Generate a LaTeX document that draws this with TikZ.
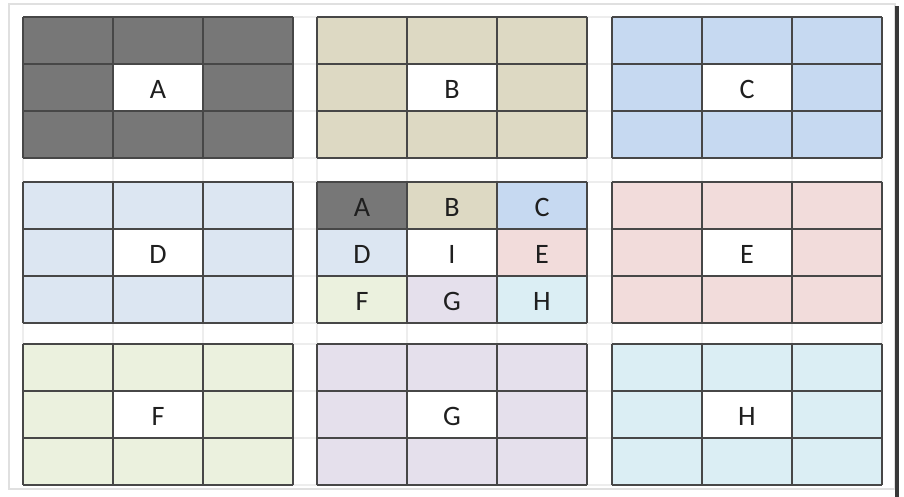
\documentclass[tikz,border=0pt]{standalone}
\usepackage{fontspec}
\setmainfont{Carlito}
\usepackage{tikz}
\usepackage{xcolor}

\definecolor{cellA}{HTML}{777777}
\definecolor{cellB}{HTML}{DDD9C3}
\definecolor{cellC}{HTML}{C6D9F1}
\definecolor{cellD}{HTML}{DCE6F2}
\definecolor{cellE}{HTML}{F2DCDB}
\definecolor{cellF}{HTML}{EBF1DE}
\definecolor{cellG}{HTML}{E5E0EC}
\definecolor{cellH}{HTML}{DBEEF4}

\tikzset{
  gridline/.style={draw=black!72, line width=0.8pt},
  faintline/.style={draw=black!7, line width=0.6pt},
  letter/.style={font=\fontsize{16}{19}\selectfont, text=black!88, inner sep=0pt}
}

\begin{document}
\begin{tikzpicture}[x=0.02cm,y=-0.02cm]
\useasboundingbox (0,0) rectangle (904,497);
\fill[white] (0,0) rectangle (904,497);
\draw[draw=black!12, line width=0.6pt] (9,4) rectangle (895,489);
\draw[draw=black!78, line width=2.4pt] (897,6) -- (897,497);

				\foreach \gx in {23,113,203,293,317,407,497,587,612,702,792,882}
				\draw[faintline] (\gx,17) -- (\gx,485);
				\foreach \gy in {17,64,111,158,182,229,276,323,344,391,438,485}
				\draw[faintline] (23,\gy) -- (882,\gy);

				\foreach \bx/\by/\fillc/\lab in 
{23/17/cellA/A, 317/17/cellB/B, 612/17/cellC/C, 23/182/cellD/D, 612/182/cellE/E, 23/344/cellF/F, 317/344/cellG/G, 612/344/cellH/H} {
\fill[\fillc] (\bx,\by) rectangle ++(270,141);
\fill[white] (\bx+90,\by+47) rectangle ++(90,47);
\foreach \i in {0,90,180,270} \draw[gridline] (\bx+\i,\by) -- ++(0,141);
\foreach \j in {0,47,94,141} \draw[gridline] (\bx,\by+\j) -- ++(270,0);
\node[letter] (lbl\lab) at (\bx+135,\by+72) {\lab};
				}

				\foreach \c/\r/\fillc/\lab in 
{0/0/cellA/A, 1/0/cellB/B, 2/0/cellC/C, 0/1/cellD/D, 1/1/white/I, 2/1/cellE/E, 0/2/cellF/F, 1/2/cellG/G, 2/2/cellH/H} {
\fill[\fillc] (317+90*\c,182+47*\r) rectangle ++(90,47);
\node[letter] (mid\lab) at (362+90*\c,207+47*\r) {\lab};
				}
				\foreach \i in {0,90,180,270} \draw[gridline] (317+\i,182) -- ++(0,141);
				\foreach \j in {0,47,94,141} \draw[gridline] (317,182+\j) -- ++(270,0);
		\end{tikzpicture}
\end{document}
